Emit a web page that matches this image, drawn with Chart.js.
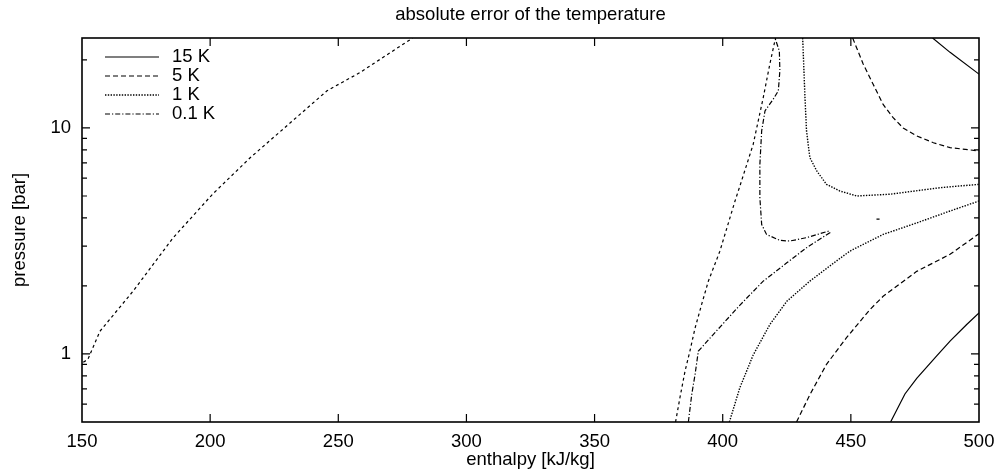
<!DOCTYPE html>
<html>
<head>
<meta charset="utf-8">
<script src="https://cdn.jsdelivr.net/npm/chart.js@4.4.1/dist/chart.umd.min.js"></script>
<style>
    html, body { margin: 0; padding: 0; background: #fff; }
</style>
</head>
<body>
<canvas id="chart" width="997" height="471"></canvas>
<script>
// contour lines, as [enthalpy kJ/kg, pressure bar]
const k15Segments = [
    [[481.9, 25], [488.7, 21.6], [500, 17.3]],
    [[465.5, 0.5], [471.1, 0.665], [475.7, 0.78], [483.5, 0.98], [488.7, 1.14], [495.2, 1.35], [500, 1.52]]
];
const k5Segments = [
    [[450.7, 25], [454.8, 19.2], [458.7, 15.6], [462.6, 12.7], [466.5, 11.1], [470.4, 10.0], [475.7, 9.22], [482.2, 8.6], [488.7, 8.18], [500, 7.91]],
    [[428.8, 0.5], [434, 0.66], [440.5, 0.9], [448.3, 1.18], [457.4, 1.57], [462.6, 1.80], [475.7, 2.32], [488.7, 2.76], [500, 3.4]]
];
const k1Segments = [
    [[431.2, 25], [432.1, 13.6], [432.7, 9.7], [434, 7.39], [436.7, 6.45], [440.5, 5.63], [445.7, 5.26], [452.3, 5.0],
     [465.3, 5.09], [484.8, 5.44], [500, 5.63]],
    [[402.6, 0.5], [406.7, 0.71], [411.9, 0.99], [418.4, 1.35], [425, 1.71], [434, 2.10], [444.4, 2.58], [449.6, 2.85],
     [457.4, 3.16], [462.6, 3.38], [475.7, 3.80], [488.7, 4.29], [500, 4.75]]
];
const k01Segments = [
    [[386.6, 0.5], [387.9, 0.66], [389.2, 0.81], [390.5, 1.03], [398, 1.28], [406.4, 1.63], [415.8, 2.10], [425, 2.53],
     [432.7, 2.95], [441.8, 3.44], [441.5, 3.50], [432.7, 3.27], [426.2, 3.16], [422.3, 3.18], [417.1, 3.38], [415.2, 3.74],
     [414.5, 4.91], [414.5, 6.9], [415.2, 9.7], [416.5, 11.9], [419.7, 13.4], [421.7, 14.6], [422.3, 17.9], [422.1, 21.9], [420.4, 25]],
    [[460, 3.95], [461.2, 3.95]]
];
// two-phase boundary (not in the key)
const saturationSegments = [
    [[150.5, 0.92], [152.3, 0.946], [157, 1.26], [170, 1.90], [185.5, 3.26], [201, 5.1], [215.5, 7.36], [245.6, 14.6], [258.5, 17.6], [279, 25]],
    [[381.6, 0.5], [383.3, 0.64], [385.3, 0.84], [387.2, 1.03], [389.2, 1.3], [391.8, 1.66], [394.4, 2.1], [398.9, 2.85],
     [404.8, 4.75], [406.7, 5.53], [411.9, 8.47], [415.8, 13.6], [418.4, 19.2], [420.6, 25]]
];

const levelLabels = ['15 K', '5 K', '1 K', '0.1 K'];
const yTickValues = [0.6, 0.7, 0.8, 0.9, 1, 2, 3, 4, 5, 6, 7, 8, 9, 10, 20];
const yTickLabels = [1, 10];

const FONT = 'Liberation Sans';
Chart.defaults.font.family = FONT;
Chart.defaults.color = '#000';

function toPoints(segments) {
    const out = [];
    segments.forEach((seg, i) => {
        if (i > 0) out.push({ x: seg[0][0], y: null });
        seg.forEach(([x, y]) => out.push({ x, y }));
    });
    return out;
}

function contour(label, segments, dash, width = 1.2, inLegend = true) {
    return {
        label,
        data: toPoints(segments),
        borderColor: '#000',
        borderWidth: width,
        borderDash: dash,
        pointRadius: 0,
        tension: 0,
        spanGaps: false,
        inLegend
    };
}

const frameAndTicks = {
    id: 'frameAndTicks',
    afterDraw(chart) {
        const { ctx, chartArea: a, scales: { x, y } } = chart;
        ctx.save();
        ctx.strokeStyle = '#000';
        ctx.lineWidth = 1.2;
        ctx.beginPath();
        x.ticks.forEach(t => {
            const px = x.getPixelForValue(t.value);
            if (px <= a.left + 1 || px >= a.right - 1) return;
            ctx.moveTo(px, a.bottom); ctx.lineTo(px, a.bottom - 8);
            ctx.moveTo(px, a.top); ctx.lineTo(px, a.top + 8);
        });
        y.ticks.forEach(t => {
            const py = y.getPixelForValue(t.value);
            if (py >= a.bottom - 1 || py <= a.top + 1) return;
            const len = yTickLabels.includes(t.value) ? 8 : 5;
            ctx.moveTo(a.left, py); ctx.lineTo(a.left + len, py);
            ctx.moveTo(a.right, py); ctx.lineTo(a.right - len, py);
        });
        ctx.stroke();
        ctx.lineWidth = 1.6;
        ctx.strokeRect(a.left, a.top, a.right - a.left, a.bottom - a.top);
        ctx.restore();
    }
};

// key drawn inside the top-left corner of the plot
const keyInside = {
    id: 'keyInside',
    afterDraw(chart) {
        const { ctx, chartArea: a } = chart;
        ctx.save();
        ctx.font = `18.5px "${FONT}"`;
        ctx.textBaseline = 'middle';
        ctx.fillStyle = '#000';
        chart.data.datasets.filter(d => d.inLegend).forEach((d, i) => {
            const yy = a.top + 19 + i * 19;
            ctx.strokeStyle = d.borderColor;
            ctx.lineWidth = d.borderWidth;
            ctx.setLineDash(d.borderDash || []);
            ctx.beginPath();
            ctx.moveTo(a.left + 23, yy);
            ctx.lineTo(a.left + 77, yy);
            ctx.stroke();
            ctx.fillText(d.label, a.left + 90, yy);
        });
        ctx.restore();
    }
};

new Chart(document.getElementById('chart'), {
    type: 'line',
    data: {
        datasets: [
            contour(levelLabels[0], k15Segments, []),
            contour(levelLabels[1], k5Segments, [5, 3]),
            contour(levelLabels[2], k1Segments, [1.4, 1.4], 1.4),
            contour(levelLabels[3], k01Segments, [5, 2, 1.2, 2]),
            contour('saturation', saturationSegments, [3, 3], 1.2, false)
        ]
    },
    options: {
        responsive: false,
        animation: false,
        layout: { padding: { left: 0, right: 18, top: 0, bottom: 0 } },
        plugins: {
            legend: { display: false },
            tooltip: { enabled: false },
            title: {
                display: true,
                fullSize: false,
                text: 'absolute error of the temperature',
                color: '#000',
                font: { size: 18.5, weight: 'normal' },
                padding: { top: 4, bottom: 11.8 }
            }
        },
        scales: {
            x: {
                type: 'linear',
                min: 150,
                max: 500,
                grid: { display: false },
                border: { display: false },
                ticks: { stepSize: 50, padding: 1, maxRotation: 0, font: { size: 18.5 } },
                title: { display: true, text: 'enthalpy [kJ/kg]', font: { size: 18.5 }, padding: 0 },
                afterFit: s => { s.height = 49; s.paddingLeft = 0; s.paddingRight = 0; }
            },
            y: {
                type: 'logarithmic',
                min: 0.5,
                max: 25,
                grid: { display: false },
                border: { display: false },
                afterBuildTicks: s => { s.ticks = yTickValues.map(v => ({ value: v })); },
                ticks: {
                    autoSkip: false,
                    padding: 3,
                    font: { size: 18.5 },
                    callback: v => yTickLabels.includes(v) ? String(v) : ''
                },
                title: { display: true, text: 'pressure [bar]', font: { size: 18.5 }, padding: { top: 9, bottom: 0 } },
                afterFit: s => { s.width = 82; s.paddingTop = 0; s.paddingBottom = 0; }
            }
        }
    },
    plugins: [frameAndTicks, keyInside]
});
</script>
</body>
</html>
